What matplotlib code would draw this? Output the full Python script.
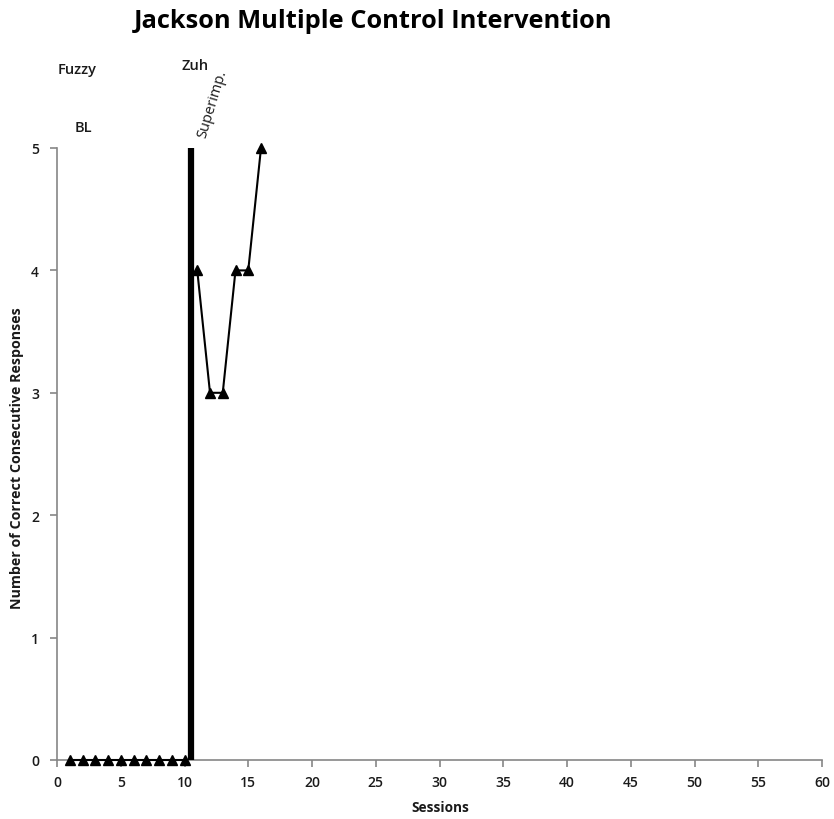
import matplotlib
matplotlib.use("Agg")
import matplotlib.pyplot as plt

plt.rcParams['font.family'] = ['Open Sans', 'DejaVu Sans']

# Session data
baseline_sessions = [1, 2, 3, 4, 5, 6, 7, 8, 9, 10]
baseline_values = [0, 0, 0, 0, 0, 0, 0, 0, 0, 0]
treatment_sessions = [11, 12, 13, 14, 15, 16]
treatment_values = [4, 3, 3, 4, 4, 5]
phase_change = 10.5

x_ticks = list(range(0, 61, 5))
y_ticks = [0, 1, 2, 3, 4, 5]

fig = plt.figure(figsize=(8.34, 8.2), dpi=100)
ax = fig.add_axes([57 / 834, 1 - 761 / 820, 765 / 834, 612 / 820])

line_kw = dict(color='black', lw=1.5, marker='^', markersize=6.5, clip_on=False, zorder=3)
ax.plot(baseline_sessions, baseline_values, **line_kw)
ax.plot(treatment_sessions, treatment_values, **line_kw)

# Phase change line
ax.plot([phase_change, phase_change], [0, 5], color='black', lw=4.5,
        solid_capstyle='butt', clip_on=False, zorder=4)

ax.set_xlim(0, 60)
ax.set_ylim(0, 5)
ax.set_xticks(x_ticks)
ax.set_yticks(y_ticks)

for side in ('top', 'right'):
    ax.spines[side].set_visible(False)
for side in ('left', 'bottom'):
    ax.spines[side].set_color('#868686')
    ax.spines[side].set_linewidth(1.2)
ax.tick_params(axis='both', direction='out', length=5, width=1.2, color='#868686',
               labelsize=10, labelcolor='#1a1a1a')
ax.tick_params(axis='x', pad=6)
ax.tick_params(axis='y', pad=8)
for lbl in ax.get_xticklabels() + ax.get_yticklabels():
    lbl.set_fontweight('semibold')

fig.text(440 / 834, 1 - 808 / 820, 'Sessions', ha='center', va='center',
         fontsize=9.8, fontweight='bold', color='#1a1a1a')
fig.text(17 / 834, 1 - 458 / 820, 'Number of Correct Consecutive Responses',
         ha='center', va='center', rotation=90, fontsize=10.3,
         fontweight='bold', color='#1a1a1a')

fig.text(373 / 834, 1 - 22 / 820, 'Jackson Multiple Control Intervention',
         ha='center', va='center', fontsize=18.3, fontweight='bold', color='black')

note_kw = dict(ha='center', va='center', fontsize=10.5, fontweight='semibold', color='#1a1a1a')
fig.text(77 / 834, 1 - 70 / 820, 'Fuzzy', **note_kw)
fig.text(195 / 834, 1 - 66 / 820, 'Zuh', **note_kw)
fig.text(83 / 834, 1 - 128 / 820, 'BL', **note_kw)
fig.text(212 / 834, 1 - 104 / 820, 'Superimp.', ha='center', va='center', fontsize=10.5,
         rotation=73, color='#1a1a1a')

fig.savefig('out.png', dpi=100, facecolor='white')
